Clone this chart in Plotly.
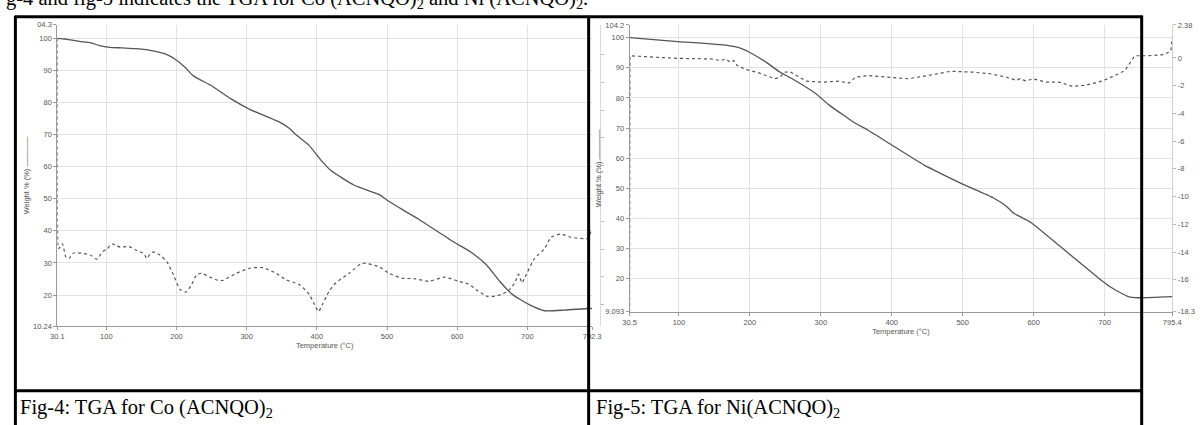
import plotly.graph_objects as go

# ---------------- data ----------------
# Fig-4 : Co(ACNQO)2
co_temp_wt = [30.1, 41.5, 48.6, 62.7, 76.9, 90.8, 104.8, 123.7, 156.7, 184.8,
              198.6, 212.5, 223.9, 249.4, 277.1, 305.0, 345.0, 360.6, 370.0, 388.2,
              406.4, 420.1, 452.6, 489.7, 499.2, 522.1, 545.2, 591.5, 619.4, 642.2,
              660.5, 678.6, 701.8, 725.1, 753.4, 786.7, 792.3]
co_weight = [100.0, 99.8, 99.5, 99.0, 98.7, 97.7, 97.2, 97.0, 96.5, 95.1,
             93.4, 90.9, 88.3, 85.3, 81.2, 77.8, 74.1, 72.0, 70.0, 66.8,
             61.9, 58.8, 54.3, 51.2, 49.7, 46.6, 43.6, 37.0, 33.4, 29.3,
             24.3, 20.2, 17.1, 15.1, 15.3, 15.8, 15.8]

co_temp_dtg = [30.1, 31.0, 32.0, 37.4, 42.2, 46.9, 51.6, 56.4, 68.1, 77.6,
               87.0, 94.0, 101.1, 108.2, 113.0, 120.1, 131.9, 143.6, 153.1, 157.8,
               162.6, 167.3, 176.8, 186.1, 195.6, 205.1, 213.6, 221.5, 228.6, 235.7,
               247.6, 259.3, 266.4, 285.3, 304.2, 323.1, 341.9, 356.1, 375.1, 389.2,
               398.6, 402.4, 408.1, 417.6, 426.9, 445.9, 464.7, 488.4, 502.5, 521.4,
               540.2, 559.2, 582.7, 601.7, 615.9, 630.0, 644.2, 658.4, 672.5, 681.9,
               687.5, 692.4, 696.0, 710.2, 724.4, 733.9, 748.0, 762.2, 785.8, 791.5]
co_dtg = [1.17, -13.73, -13.97, -13.61, -14.55, -14.67, -14.32, -14.25, -14.32, -14.44,
          -14.72, -14.20, -13.97, -13.61, -13.73, -13.85, -13.81, -14.09, -14.32, -14.67,
          -14.32, -14.20, -14.44, -14.90, -15.85, -16.90, -17.09, -16.55, -15.85, -15.73,
          -16.01, -16.24, -16.24, -15.73, -15.37, -15.33, -15.73, -16.20, -16.55, -17.26,
          -18.19, -18.49, -17.96, -17.02, -16.43, -15.73, -15.02, -15.26, -15.73, -16.08,
          -16.13, -16.31, -16.01, -16.31, -16.50, -17.02, -17.42, -17.33, -17.02, -16.43,
          -15.80, -16.43, -16.08, -14.67, -13.97, -13.14, -12.91, -13.14, -13.21, -12.56]

# Fig-5 : Ni(ACNQO)2
ni_temp_wt = [30.5, 98.6, 168.0, 186.6, 205.2, 223.7, 242.2, 260.8, 293.2, 311.7,
              334.9, 348.8, 367.3, 400.6, 446.4, 469.3, 500.7, 543.4, 561.9, 571.0,
              596.6, 636.0, 663.9, 691.7, 710.0, 733.4, 747.3, 793.5, 795.4]
ni_weight = [100.0, 98.7, 97.4, 96.5, 94.4, 91.7, 88.6, 86.2, 81.4, 77.6,
             73.8, 71.6, 69.2, 64.3, 57.6, 54.9, 51.3, 46.8, 44.0, 41.9,
             38.6, 31.0, 25.6, 20.2, 17.0, 14.1, 13.7, 14.1, 14.1]

ni_temp_dtg = [30.5, 31.0, 52.3, 98.6, 144.9, 158.8, 165.7, 172.7, 177.4, 182.0,
               186.6, 191.3, 209.8, 223.7, 235.2, 242.2, 249.1, 256.1, 265.4, 279.3,
               302.5, 325.6, 339.5, 348.8, 367.3, 404.4, 422.9, 450.7, 483.2, 515.6,
               538.8, 561.9, 575.8, 580.5, 589.6, 598.9, 617.4, 636.1, 654.6, 673.0,
               696.2, 714.7, 728.6, 742.5, 761.1, 784.2, 793.5, 795.4]
ni_dtg = [-18.3, 0.16, 0.09, -0.03, -0.07, -0.19, -0.07, -0.31, -0.19, -0.55,
          -0.62, -0.79, -1.03, -1.27, -1.50, -1.39, -1.03, -0.98, -1.27, -1.67,
          -1.75, -1.67, -1.82, -1.39, -1.27, -1.39, -1.50, -1.27, -0.96, -1.03,
          -1.14, -1.39, -1.62, -1.50, -1.67, -1.50, -1.75, -1.75, -2.05, -1.98,
          -1.67, -1.27, -0.91, 0.16, 0.16, 0.24, 0.52, 1.47]

# tick labels
co_xticks = [30.1, 100, 200, 300, 400, 500, 600, 700, 792.3]
co_xticktext = ["30.1", "100", "200", "300", "400", "500", "600", "700", "792.3"]
co_yticks = [10.24, 20, 30, 40, 50, 60, 70, 80, 90, 100, 104.3]
co_yticktext = ["10.24", "20", "30", "40", "50", "60", "70", "80", "90", "100", "04.3"]
co_dtg_ticks = [0, -2, -4, -6, -8, -10, -12, -14, -16, -18]

ni_xticks = [30.5, 100, 200, 300, 400, 500, 600, 700, 795.4]
ni_xticktext = ["30.5", "100", "200", "300", "400", "500", "600", "700", "795.4"]
ni_yticks = [9.093, 20, 30, 40, 50, 60, 70, 80, 90, 100, 104.2]
ni_yticktext = ["9.093", "20", "30", "40", "50", "60", "70", "80", "90", "100", "104.2"]
ni_dtg_ticks = [2.38, 0, -2, -4, -6, -8, -10, -12, -14, -16, -18.3]
ni_dtg_ticktext = ["2.38", "0", "-2", "-4", "-6", "-8", "-10", "-12", "-14", "-16", "-18.3"]

captions = ["Fig-4: TGA for Co (ACNQO)<sub>2</sub>", "Fig-5: TGA for Ni(ACNQO)<sub>2</sub>"]
top_text = "g-4 and fig-5 indicates the TGA for Co (ACNQO)<sub>2</sub> and Ni (ACNQO)<sub>2</sub>."

# ---------------- figure ----------------
W, H = 1201, 425
def px(x):
    return x / W
def py(y):
    return 1 - y / H

LINE = "#555555"
GRID = "#e2e2e2"
AX = "#9a9a9a"
TXT = "#555555"
SANS = "Liberation Sans, Arial, sans-serif"
SERIF = "Liberation Serif, Times New Roman, serif"

fig = go.Figure()
fig.add_trace(go.Scatter(x=co_temp_wt, y=co_weight, mode="lines", xaxis="x", yaxis="y",
                         line=dict(color=LINE, width=1.3, shape="spline", smoothing=0.5), showlegend=False))
fig.add_trace(go.Scatter(x=co_temp_dtg, y=co_dtg, mode="lines", xaxis="x", yaxis="y3",
                         line=dict(color=LINE, width=1.2, dash="dot", shape="spline", smoothing=0.6),
                         showlegend=False))
fig.add_trace(go.Scatter(x=ni_temp_wt, y=ni_weight, mode="lines", xaxis="x2", yaxis="y2",
                         line=dict(color=LINE, width=1.3, shape="spline", smoothing=0.5), showlegend=False))
fig.add_trace(go.Scatter(x=ni_temp_dtg, y=ni_dtg, mode="lines", xaxis="x2", yaxis="y4",
                         line=dict(color=LINE, width=1.2, dash="dot"), showlegend=False))

tickfont = dict(family=SANS, size=7.5, color=TXT)
common_x = dict(showline=True, linecolor=AX, linewidth=1, showgrid=True, gridcolor=GRID, gridwidth=1,
                ticks="outside", ticklen=3, tickcolor=AX, tickfont=tickfont, zeroline=False,
                tickmode="array")
common_y = dict(showline=True, linecolor=AX, linewidth=1, showgrid=True, gridcolor=GRID, gridwidth=1,
                ticks="outside", ticklen=3, tickcolor=AX, tickfont=tickfont, zeroline=False,
                tickmode="array")

fig.update_layout(
    width=W, height=H,
    margin=dict(l=0, r=0, t=0, b=0),
    paper_bgcolor="white", plot_bgcolor="white",
    showlegend=False,
    xaxis=dict(common_x, domain=[px(51), px(593)], range=[30.1, 792.3], anchor="y",
               tickvals=co_xticks, ticktext=co_xticktext,
               title=dict(text="Temperature (°C)", font=dict(family=SANS, size=7.5, color=TXT), standoff=1)),
    yaxis=dict(common_y, domain=[py(329.3), py(21)], range=[10.24, 104.3], anchor="x",
               tickvals=co_yticks, ticktext=co_yticktext,
               title=dict(text="Weight % (%) ————", font=dict(family=SANS, size=7.5, color=TXT), standoff=2)),
    yaxis3=dict(overlaying="y", side="right", anchor="free", position=px(601), range=[-19.55, 2.16],
                showgrid=False, zeroline=False, showline=True, linecolor="#d8d8d8", ticks="outside",
                ticklen=3, tickcolor="#bbbbbb", showticklabels=False, tickmode="array", tickvals=co_dtg_ticks),
    xaxis2=dict(common_x, domain=[px(631), px(1181)], range=[30.5, 795.4], anchor="y2",
                tickvals=ni_xticks, ticktext=ni_xticktext,
                title=dict(text="Temperature (°C)", font=dict(family=SANS, size=7.5, color=TXT), standoff=1)),
    yaxis2=dict(common_y, domain=[py(314.3), py(21.4)], range=[9.093, 104.2], anchor="x2",
                tickvals=ni_yticks, ticktext=ni_yticktext,
                title=dict(text="Weight % (%) ————", font=dict(family=SANS, size=7.5, color=TXT), standoff=2)),
    yaxis4=dict(overlaying="y2", side="right", anchor="x2", range=[-18.3, 2.38],
                showgrid=False, zeroline=False, showline=True, linecolor="#cfcfcf", ticks="outside",
                ticklen=3, tickcolor="#bbbbbb", tickfont=tickfont, tickmode="array",
                tickvals=ni_dtg_ticks, ticktext=ni_dtg_ticktext),
)

# table borders (scanned document frame)
border = dict(color="black", width=3)
shapes = [
    dict(type="line", xref="paper", yref="paper", x0=px(8), x1=px(1151), y0=py(13), y1=py(13), line=border),
    dict(type="line", xref="paper", yref="paper", x0=px(8.5), x1=px(8.5), y0=py(12), y1=py(430), line=border),
    dict(type="line", xref="paper", yref="paper", x0=px(589.5), x1=px(589.5), y0=py(12), y1=py(430), line=border),
    dict(type="line", xref="paper", yref="paper", x0=px(1150), x1=px(1150), y0=py(12), y1=py(430), line=border),
    dict(type="line", xref="paper", yref="paper", x0=px(8), x1=px(1151), y0=py(395), y1=py(395), line=border),
]
for s in shapes:
    s["layer"] = "above"
fig.update_layout(shapes=shapes)

fig.add_annotation(xref="paper", yref="paper", x=px(11), y=py(398), xanchor="left", yanchor="top",
                   text=captions[0], showarrow=False,
                   font=dict(family=SERIF, size=20.5, color="black"))
fig.add_annotation(xref="paper", yref="paper", x=px(595), y=py(398), xanchor="left", yanchor="top",
                   text=captions[1], showarrow=False,
                   font=dict(family=SERIF, size=20.5, color="black"))
fig.add_annotation(xref="paper", yref="paper", x=px(-3), y=py(10), xanchor="left", yanchor="bottom",
                   text=top_text, showarrow=False,
                   font=dict(family=SERIF, size=20.5, color="black"))

fig.write_html("out.html", config={"displayModeBar": False},
               post_script="document.body.style.margin='0';document.body.style.overflow='hidden';")
